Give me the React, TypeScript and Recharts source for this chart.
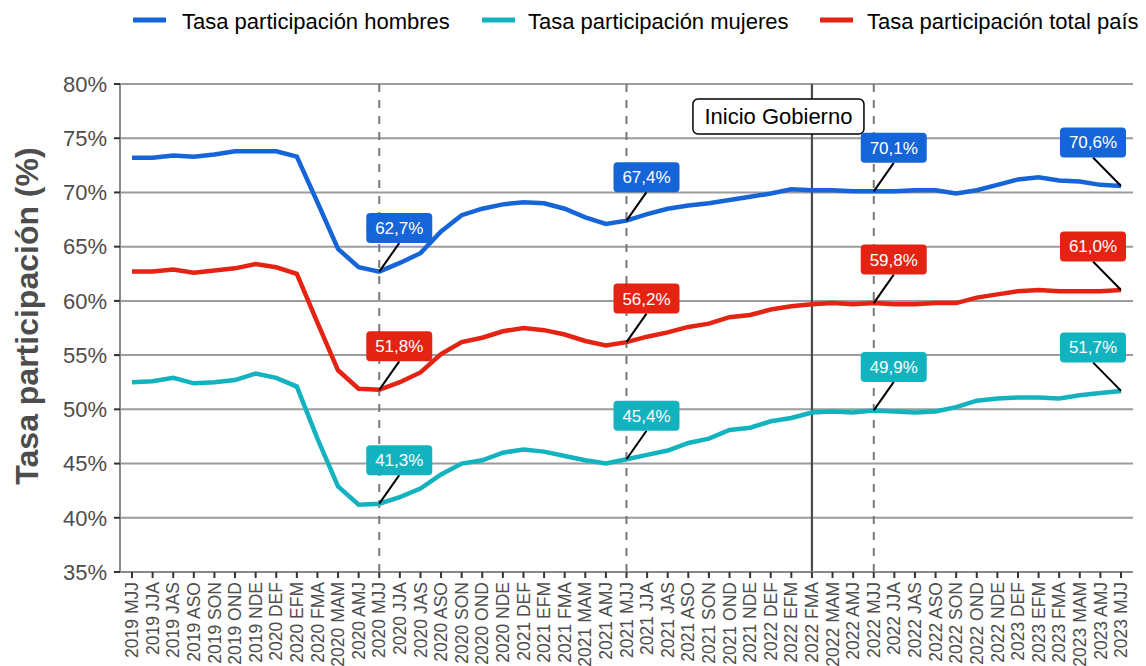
import React from 'react';
import { LineChart, Line, XAxis, YAxis, CartesianGrid, ReferenceLine } from 'recharts';

const periods = [
  "2019 MJJ","2019 JJA","2019 JAS","2019 ASO","2019 SON","2019 OND","2019 NDE",
  "2020 DEF","2020 EFM","2020 FMA","2020 MAM","2020 AMJ","2020 MJJ","2020 JJA","2020 JAS","2020 ASO","2020 SON","2020 OND","2020 NDE",
  "2021 DEF","2021 EFM","2021 FMA","2021 MAM","2021 AMJ","2021 MJJ","2021 JJA","2021 JAS","2021 ASO","2021 SON","2021 OND","2021 NDE",
  "2022 DEF","2022 EFM","2022 FMA","2022 MAM","2022 AMJ","2022 MJJ","2022 JJA","2022 JAS","2022 ASO","2022 SON","2022 OND","2022 NDE",
  "2023 DEF","2023 EFM","2023 FMA","2023 MAM","2023 AMJ","2023 MJJ"
];

const hombres = [
  73.2, 73.2, 73.4, 73.3, 73.5, 73.8, 73.8,
  73.8, 73.3, 69.1, 64.8, 63.1, 62.7, 63.5, 64.4, 66.4, 67.9, 68.5, 68.9,
  69.1, 69.0, 68.5, 67.7, 67.1, 67.4, 68.0, 68.5, 68.8, 69.0, 69.3, 69.6,
  69.9, 70.3, 70.2, 70.2, 70.1, 70.1, 70.1, 70.2, 70.2, 69.9, 70.2, 70.7,
  71.2, 71.4, 71.1, 71.0, 70.7, 70.6
];

const mujeres = [
  52.5, 52.6, 52.9, 52.4, 52.5, 52.7, 53.3,
  52.9, 52.1, 47.3, 42.9, 41.2, 41.3, 41.9, 42.7, 44.0, 45.0, 45.3, 46.0,
  46.3, 46.1, 45.7, 45.3, 45.0, 45.4, 45.8, 46.2, 46.9, 47.3, 48.1, 48.3,
  48.9, 49.2, 49.7, 49.8, 49.7, 49.9, 49.8, 49.7, 49.8, 50.2, 50.8, 51.0,
  51.1, 51.1, 51.0, 51.3, 51.5, 51.7
];

const total = [
  62.7, 62.7, 62.9, 62.6, 62.8, 63.0, 63.4,
  63.1, 62.5, 58.0, 53.6, 51.9, 51.8, 52.5, 53.4, 55.1, 56.2, 56.6, 57.2,
  57.5, 57.3, 56.9, 56.3, 55.9, 56.2, 56.7, 57.1, 57.6, 57.9, 58.5, 58.7,
  59.2, 59.5, 59.7, 59.8, 59.7, 59.8, 59.7, 59.7, 59.8, 59.8, 60.3, 60.6,
  60.9, 61.0, 60.9, 60.9, 60.9, 61.0
];

const yTicks = [35, 40, 45, 50, 55, 60, 65, 70, 75, 80];
const labeledPeriods = ["2020 MJJ", "2021 MJJ", "2022 MJJ", "2023 MJJ"];
const dashedPeriods = ["2020 MJJ", "2021 MJJ", "2022 MJJ"];
const govStart = "2022 FMA";
const govLabel = "Inicio Gobierno";
const yTitle = "Tasa participación (%)";

const series = [
  { key: 'hombres', name: 'Tasa participación hombres', color: '#1565d8' },
  { key: 'mujeres', name: 'Tasa participación mujeres', color: '#12b2bf' },
  { key: 'total', name: 'Tasa participación total país', color: '#e42313' },
];

const data = periods.map((p, i) => ({ periodo: p, hombres: hombres[i], mujeres: mujeres[i], total: total[i] }));

const FONT = '"Liberation Sans", Arial, Helvetica, sans-serif';
const fmt = (v: number) => v.toFixed(1).replace('.', ',') + '%';

function makeDot(key: string, color: string) {
  return (props: any) => {
    const { cx, cy, index, payload } = props;
    const p = payload ? payload.periodo : periods[index];
    if (!labeledPeriods.includes(p) || cx == null || cy == null) return <g key={`d-${key}-${index}`} />;
    const last = p === periods[periods.length - 1];
    const bx = cx + (last ? -28 : 20);
    const by = cy - 43.5;
    return (
      <g key={`d-${key}-${index}`}>
        <line x1={cx} y1={cy} x2={bx} y2={by + 15} stroke="#000" strokeWidth={2} />
        <rect x={bx - 33} y={by - 15} width={66} height={30} rx={4} ry={4} fill={color} />
        <text x={bx} y={by} dy="0.35em" textAnchor="middle" fill="#fff" fontSize={17} fontFamily={FONT}>
          {fmt(payload ? payload[key] : 0)}
        </text>
      </g>
    );
  };
}

const XTick = (props: any) => {
  const { x, y, payload } = props;
  return (
    <text x={x} y={y} transform={`rotate(-90, ${x}, ${y})`} textAnchor="end" dy="0.35em"
      fill="#4d4d4d" fontSize={17.5} fontFamily={FONT}>
      {payload.value}
    </text>
  );
};

const GovLabel = (props: any) => {
  const vb = props.viewBox || {};
  const x = vb.x;
  if (x == null) return null;
  return (
    <g>
      <rect x={x - 119} y={99} width={171} height={35} rx={5} ry={5} fill="#fff" stroke="#000" strokeWidth={1.5} />
      <text x={x - 33.5} y={116.5} dy="0.35em" textAnchor="middle" fill="#000" fontSize={22} fontFamily={FONT}>
        {govLabel}
      </text>
    </g>
  );
};

export default function App() {
  const legendItems = [
    { key: 182, kx: 133 },
    { key: 528, kx: 482 },
    { key: 867, kx: 820 },
  ];
  return (
    <div style={{ position: 'absolute', left: 0, top: 0, width: 1146, height: 666, background: '#fff' }}>
      <LineChart width={1146} height={666} data={data} margin={{ top: 84, right: 13, bottom: 0, left: 0 }}>
        <CartesianGrid vertical={false} stroke="#9c9c9c" strokeWidth={2} />
        <XAxis dataKey="periodo" interval={0} padding={{ left: 12, right: 12 }} height={94}
          tick={<XTick />} tickSize={6} tickMargin={4}
          axisLine={{ stroke: '#8a8a8a', strokeWidth: 2 }} tickLine={{ stroke: '#333', strokeWidth: 2 }} />
        <YAxis domain={[35, 80]} ticks={yTicks} width={120} tickFormatter={(v: number) => `${v}%`}
          tick={{ fill: '#4d4d4d', fontSize: 22, fontFamily: FONT }} tickSize={6} tickMargin={7}
          axisLine={{ stroke: '#8a8a8a', strokeWidth: 2 }} tickLine={{ stroke: '#333', strokeWidth: 2 }} />
        {dashedPeriods.map((p) => (
          <ReferenceLine key={p} x={p} stroke="#777" strokeWidth={2} strokeDasharray="8 8" />
        ))}
        <ReferenceLine x={govStart} stroke="#4a4a4a" strokeWidth={2.2} label={(props: any) => <GovLabel {...props} />} />
        {series.map((s) => (
          <Line key={s.key} type="linear" dataKey={s.key} name={s.name} stroke={s.color} strokeWidth={4.5}
            dot={makeDot(s.key, s.color)} activeDot={false} isAnimationActive={false} />
        ))}
      </LineChart>
      <svg width={1146} height={666} style={{ position: 'absolute', left: 0, top: 0, pointerEvents: 'none' }}>
        {series.map((s, i) => (
          <g key={s.key}>
            <line x1={legendItems[i].kx} x2={legendItems[i].kx + 33} y1={20} y2={20} stroke={s.color} strokeWidth={5} />
            <text x={legendItems[i].key} y={21} dy="0.35em" fontSize={22} fontFamily={FONT} fill="#000">{s.name}</text>
          </g>
        ))}
        <text x={38} y={316} transform="rotate(-90, 38, 316)" textAnchor="middle" fontSize={32} fontWeight="bold"
          fontFamily={FONT} fill="#4d4d4d">{yTitle}</text>
      </svg>
    </div>
  );
}
